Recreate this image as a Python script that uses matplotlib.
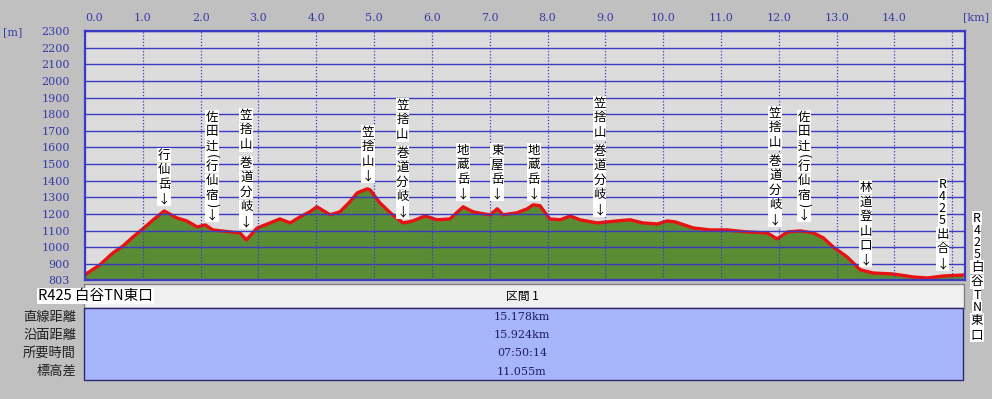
import matplotlib.pyplot as plt
import matplotlib.transforms as mtransforms
from matplotlib.patches import Rectangle

# profile: horizontal distance [km] and elevation [m]
dist_km = [0.00, 0.26, 0.48, 0.66, 0.83, 1.00, 1.18, 1.37, 1.59, 1.76, 1.94, 2.08, 2.21,
           2.51, 2.68, 2.79, 2.98, 3.20, 3.37, 3.55, 3.72, 3.89, 4.01, 4.24, 4.41, 4.58,
           4.71, 4.88, 4.93, 5.10, 5.28, 5.50, 5.67, 5.88, 6.09, 6.31, 6.54, 6.71, 6.89,
           7.01, 7.13, 7.23, 7.47, 7.65, 7.75, 7.87, 8.04, 8.22, 8.39, 8.56, 8.86, 9.20,
           9.43, 9.65, 9.90, 10.07, 10.21, 10.52, 10.81, 11.11, 11.45, 11.80, 11.97, 12.15,
           12.37, 12.60, 12.77, 12.94, 13.18, 13.41, 13.63, 13.98, 14.33, 14.57, 14.84, 15.19]
elev_m = [835, 895, 965, 1008, 1062, 1110, 1165, 1218, 1176, 1158, 1122, 1134, 1104,
          1092, 1086, 1044, 1116, 1146, 1170, 1146, 1183, 1213, 1243, 1195, 1213, 1273,
          1327, 1351, 1345, 1267, 1207, 1146, 1158, 1188, 1165, 1170, 1243, 1213, 1201,
          1195, 1231, 1195, 1207, 1231, 1255, 1249, 1170, 1165, 1188, 1165, 1146, 1158,
          1165, 1146, 1140, 1158, 1152, 1116, 1104, 1104, 1092, 1086, 1050, 1092,
          1098, 1086, 1056, 1002, 942, 864, 845, 839, 821, 815, 827, 833]

# waypoint labels
wp_km = [1.37, 2.20, 2.79, 4.90, 5.49, 6.54, 7.13, 7.76, 8.90, 11.94, 12.44, 13.50, 14.83]
wp_name = ["行仙岳", "佐田辻(行仙宿)", "笠捨山 巻道分岐", "笠捨山", "笠捨山 巻道分岐",
           "地蔵岳", "東屋岳", "地蔵岳", "笠捨山 巻道分岐", "笠捨山 巻道分岐",
           "佐田辻(行仙宿)", "林道登山口", "R425出合"]
start_name = "R425 白谷TN東口"
end_name = "R425白谷TN東口"

x_ticks = list(range(16))
x_labels = ["%.1f" % v for v in range(15)] + [""]
y_ticks = [803] + list(range(900, 2400, 100))

row_names = ["直線距離", "沿面距離", "所要時間", "標高差"]
row_values = ["15.178km", "15.924km", "07:50:14", "11.055m"]
section_name = "区間 1"

# layout (pixels from top of the 992x399 image)
wp_top = [148, 110, 108, 125, 98, 143, 143, 143, 96, 106, 110, 180, 179]
end_top = 212

W, H = 992, 399
BLUE = "#3a3ac4"
JP = ["Noto Sans CJK JP", "DejaVu Sans"]

fig = plt.figure(figsize=(W / 100, H / 100), dpi=100, facecolor="#c0c0c0")
ax = fig.add_axes([85 / W, 1 - 280 / H, 880 / W, 249 / H])
ax.set_facecolor("#dcdcdc")

ax.fill_between(dist_km, elev_m, 803, color="#5a8c34", lw=0)
ax.plot(dist_km, elev_m, color="#e81212", lw=2.4, solid_joinstyle="round")

ax.set_xlim(0, 15.22)
ax.set_ylim(803, 2300)
ax.xaxis.tick_top()
ax.set_xticks(x_ticks)
ax.set_xticklabels(x_labels)
ax.set_yticks(y_ticks)
ax.tick_params(length=0, colors="#3a3aa8", labelsize=8)
ax.tick_params(axis="y", pad=11)
ax.tick_params(axis="x", pad=6)
for t in ax.get_xticklabels() + ax.get_yticklabels():
    t.set_family("DejaVu Serif")
ax.get_xticklabels()[0].set_ha("left")
ax.yaxis.grid(True, color=BLUE, lw=1.0, ls="-")
ax.xaxis.grid(True, color=BLUE, lw=0.9, ls=(0, (1, 1.5)))
ax.set_axisbelow(False)
for sp in ax.spines.values():
    sp.set_color(BLUE)
    sp.set_linewidth(1.6)

fig.text(3 / W, 1 - 32 / H, "[m]", family="DejaVu Serif", size=8, color="#3a3aa8", va="center")
fig.text(989 / W, 1 - 17 / H, "[km]", family="DejaVu Serif", size=8, color="#3a3aa8",
         va="center", ha="right")

trans = mtransforms.blended_transform_factory(ax.transData, fig.transFigure)
box = dict(boxstyle="square,pad=0.05", fc="white", ec="none")


def char_height(c):
    if c in "()":
        return 5.0
    if c.isascii():
        return 12.0
    return 14.6


def stack_label(x, top, text, tr):
    cursor = top
    for c in text:
        if c == " ":
            cursor += 4
            continue
        h = char_height(c)
        rot = -90 if c in "()" else 0
        fig.text(x, 1 - (cursor + h / 2) / H, c, transform=tr, family=JP, size=9,
                 color="black", ha="center", va="center", rotation=rot, bbox=box)
        cursor += h


for km, top, name in zip(wp_km, wp_top, wp_name):
    stack_label(km, top, name + "↓", trans)

# end point label, outside the axes on the right
stack_label(977 / W, end_top, end_name, fig.transFigure)

# summary table below the profile
fig.patches.append(Rectangle((84 / W, 1 - 308 / H), 880 / W, 24 / H, transform=fig.transFigure,
                             fc="#f0f0f0", ec="#808080", lw=1))
fig.patches.append(Rectangle((84 / W, 1 - 380 / H), 879 / W, 72 / H, transform=fig.transFigure,
                             fc="#a7b6fc", ec="#2a2a6a", lw=1))
fig.text(38 / W, 1 - 296 / H, start_name, family=JP, size=10.5, va="center",
         bbox=dict(boxstyle="square,pad=0.1", fc="white", ec="none"))
fig.text(522 / W, 1 - 296 / H, section_name, family=JP, size=8.5, ha="center", va="center")
for i, (name, val) in enumerate(zip(row_names, row_values)):
    y = 1 - (317 + i * 18.2) / H
    fig.text(76 / W, y, name, family=JP, size=9.5, ha="right", va="center", color="#202020")
    fig.text(522 / W, y, val, family="DejaVu Serif", size=8, ha="center", va="center",
             color="#1e1e64")

fig.savefig("out.png", dpi=100, facecolor=fig.get_facecolor())
